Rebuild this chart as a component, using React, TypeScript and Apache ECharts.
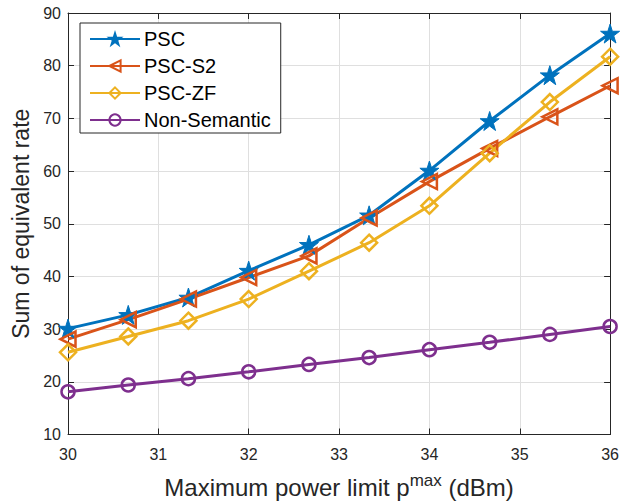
import React, { useEffect, useRef } from "react";
import * as echarts from "echarts";

const xValues = [30, 30.667, 31.333, 32, 32.667, 33.333, 34, 34.667, 35.333, 36];
const pscValues = [30.1, 32.7, 36.0, 41.1, 46.0, 51.6, 60.1, 69.5, 78.2, 86.1];
const pscS2Values = [28.1, 31.8, 35.7, 39.8, 43.9, 51.1, 58.0, 64.3, 70.3, 76.2];
const pscZFValues = [25.6, 28.6, 31.6, 35.7, 41.0, 46.4, 53.4, 63.4, 73.1, 81.7];
const nonSemanticValues = [18.1, 19.4, 20.6, 21.9, 23.3, 24.6, 26.1, 27.5, 29.0, 30.5];
const seriesNames = ["PSC", "PSC-S2", "PSC-ZF", "Non-Semantic"];
const xTicks = [30, 31, 32, 33, 34, 35, 36];
const yTicks = [10, 20, 30, 40, 50, 60, 70, 80, 90];

const colors = ["#0072BD", "#D95319", "#EDB120", "#7E2F8E"];
const STAR = "path://M50,2 L61.2,36.2 L97.6,36.2 L68.2,57.6 L79.4,92 L50,70.8 L20.6,92 L31.8,57.6 L2.4,36.2 L38.8,36.2 Z";
const FONT = "Liberation Sans";
const TEXT = "#262626";

function pairs(ys: number[]) {
  return xValues.map((x, i) => [x, ys[i]]);
}

export default function App() {
  const ref = useRef<HTMLDivElement>(null);
  useEffect(() => {
    if (!ref.current) return;
    const chart = echarts.init(ref.current, undefined, { renderer: "svg" });
    const mk = (
      name: string,
      ys: number[],
      color: string,
      symbol: string,
      size: number,
      filled: boolean,
      rotate = 0
    ) => ({
      name,
      type: "line",
      data: pairs(ys),
      symbol,
      symbolSize: size,
      symbolRotate: rotate,
      showAllSymbol: true,
      lineStyle: { color, width: 3 },
      itemStyle: filled
        ? { color, borderColor: color, borderWidth: 1 }
        : { color: "rgba(255,255,255,0)", borderColor: color, borderWidth: 2.5 },
      emphasis: { disabled: true },
      z: 3,
    });
    chart.setOption({
      animation: false,
      backgroundColor: "#ffffff",
      textStyle: { fontFamily: FONT },
      grid: { left: 68, top: 13, right: 9, bottom: 67, containLabel: false },
      legend: {
        left: 80,
        top: 23,
        orient: "vertical",
        backgroundColor: "#ffffff",
        borderColor: "#262626",
        borderWidth: 1,
        padding: [6, 10, 3, 9],
        itemWidth: 50,
        itemHeight: 14,
        itemGap: 7,
        data: seriesNames,
        textStyle: {
          fontSize: 20,
          lineHeight: 20,
          color: "#000",
          fontFamily: FONT,
          padding: [0, 0, 0, -1],
        },
      },
      xAxis: [
        {
          type: "value",
          min: 30,
          max: 36,
          interval: 1,
          position: "bottom",
          name: "Maximum power limit p{sup|max} (dBm)",
          nameLocation: "middle",
          nameGap: 37,
          nameTextStyle: {
            fontSize: 24,
            color: TEXT,
            fontFamily: FONT,
            rich: { sup: { fontSize: 17, color: TEXT, fontFamily: FONT, padding: [0, 0, 14, 0] } },
          },
          axisLine: { show: true, lineStyle: { color: TEXT, width: 1 } },
          axisTick: { show: true, inside: true, length: 6, lineStyle: { color: TEXT } },
          axisLabel: {
            fontSize: 16,
            color: TEXT,
            margin: 12,
            formatter: (v: number) => (xTicks.includes(v) ? String(v) : ""),
          },
          splitLine: { show: true, lineStyle: { color: "#dfdfdf", width: 1 } },
        },
        {
          type: "value",
          min: 30,
          max: 36,
          interval: 1,
          position: "top",
          axisLine: { show: true, lineStyle: { color: TEXT, width: 1 } },
          axisTick: { show: true, inside: true, length: 6, lineStyle: { color: TEXT } },
          axisLabel: { show: false },
          splitLine: { show: false },
        },
      ],
      yAxis: [
        {
          type: "value",
          min: 10,
          max: 90,
          interval: 10,
          position: "left",
          name: "Sum of equivalent rate",
          nameLocation: "middle",
          nameGap: 28,
          nameTextStyle: { fontSize: 23, color: TEXT, fontFamily: FONT },
          axisLine: { show: true, lineStyle: { color: TEXT, width: 1 } },
          axisTick: { show: true, inside: true, length: 6, lineStyle: { color: TEXT } },
          axisLabel: {
            fontSize: 16,
            color: TEXT,
            margin: 7,
            formatter: (v: number) => (yTicks.includes(v) ? String(v) : ""),
          },
          splitLine: { show: true, lineStyle: { color: "#dfdfdf", width: 1 } },
        },
        {
          type: "value",
          min: 10,
          max: 90,
          interval: 10,
          position: "right",
          axisLine: { show: true, lineStyle: { color: TEXT, width: 1 } },
          axisTick: { show: true, inside: true, length: 6, lineStyle: { color: TEXT } },
          axisLabel: { show: false },
          splitLine: { show: false },
        },
      ],
      series: [
        mk(seriesNames[0], pscValues, colors[0], STAR, 19, true),
        mk(seriesNames[1], pscS2Values, colors[1], "triangle", 15, false, 90),
        mk(seriesNames[2], pscZFValues, colors[2], "diamond", 16, false),
        mk(seriesNames[3], nonSemanticValues, colors[3], "circle", 13, false),
      ],
    });
    return () => chart.dispose();
  }, []);
  return (
    <div
      ref={ref}
      style={{ position: "fixed", left: 0, top: 0, width: 622, height: 504 }}
    />
  );
}
